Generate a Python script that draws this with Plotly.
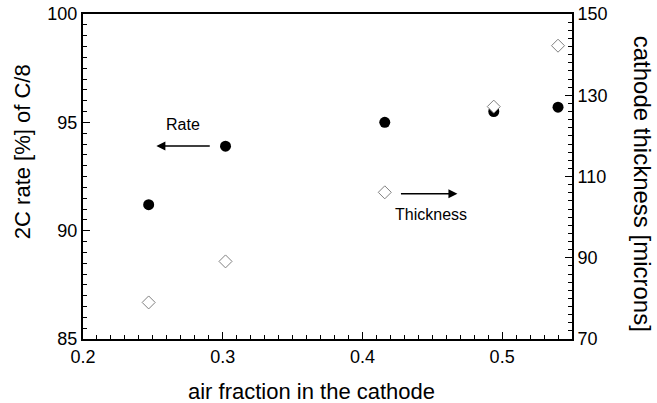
import plotly.graph_objects as go

air_fraction = [0.247, 0.302, 0.416, 0.494, 0.540]
rate_2c = [91.2, 93.9, 95.0, 95.5, 95.7]
thickness = [79.0, 89.1, 106.1, 127.2, 142.2]

x_ticks = [0.2, 0.3, 0.4, 0.5]
y1_ticks = [85, 90, 95, 100]
y2_ticks = [70, 90, 110, 130, 150]

FONT = "Liberation Sans, Arial, sans-serif"

fig = go.Figure()
fig.add_trace(go.Scatter(
    x=air_fraction, y=rate_2c, mode="markers", name="Rate",
    marker=dict(symbol="circle", size=11, color="black"),
))
fig.add_trace(go.Scatter(
    x=air_fraction, y=thickness, mode="markers", name="Thickness", yaxis="y2",
    marker=dict(symbol="diamond", size=10, color="white",
                line=dict(color="#808080", width=1)),
))

axis_common = dict(
    showgrid=False, zeroline=False, showline=True, linecolor="black",
    linewidth=2, ticks="inside", ticklen=7, tickwidth=1, tickcolor="black",
    tickfont=dict(family=FONT, size=18, color="black"), automargin=False,
)

fig.update_layout(
    width=657, height=403,
    margin=dict(l=83, r=85, t=14, b=64),
    paper_bgcolor="white", plot_bgcolor="white",
    showlegend=False,
    font=dict(family=FONT, color="black"),
    xaxis=dict(
        range=[0.2, 0.55], tickvals=x_ticks, ticktext=[str(v) for v in x_ticks],
        mirror=True,
        minor=dict(ticks="inside", dtick=0.01, ticklen=4, tickcolor="black", tickwidth=1),
        **axis_common,
    ),
    yaxis=dict(
        range=[85, 100], tickvals=y1_ticks, ticktext=[str(v) for v in y1_ticks],
        minor=dict(ticks="inside", dtick=0.5, ticklen=4, tickcolor="black", tickwidth=1),
        **axis_common,
    ),
    yaxis2=dict(
        range=[70, 150], tickvals=y2_ticks, ticktext=[str(v) for v in y2_ticks],
        overlaying="y", side="right",
        minor=dict(ticks="inside", dtick=2, ticklen=4, tickcolor="black", tickwidth=1),
        **axis_common,
    ),
)

# Axis titles (as annotations for precise placement)
fig.add_annotation(text="air fraction in the cathode", xref="paper", yref="paper",
                   x=0.467, y=-0.162, showarrow=False, xanchor="center", yanchor="middle",
                   font=dict(family=FONT, size=22, color="black"))
fig.add_annotation(text="2C rate [%] of C/8", xref="paper", yref="paper",
                   x=-0.1247, y=0.575, showarrow=False, textangle=-90,
                   xanchor="center", yanchor="middle",
                   font=dict(family=FONT, size=22, color="black"))
fig.add_annotation(text="cathode thickness [microns]", xref="paper", yref="paper",
                   x=1.143, y=0.478, showarrow=False, textangle=90,
                   xanchor="center", yanchor="middle",
                   font=dict(family=FONT, size=24, color="black"))

# Rate annotation
fig.add_annotation(x=0.2713, y=94.88, xref="x", yref="y", text="Rate",
                   showarrow=False, font=dict(family=FONT, size=16, color="black"))
fig.add_annotation(x=0.2525, y=93.91, ax=0.2918, ay=93.91, xref="x", yref="y",
                   axref="x", ayref="y", text="", showarrow=True,
                   arrowhead=2, arrowsize=1.2, arrowwidth=1.5, arrowcolor="black")
# Thickness annotation
fig.add_annotation(x=0.4494, y=90.73, xref="x", yref="y", text="Thickness",
                   showarrow=False, font=dict(family=FONT, size=16, color="black"))
fig.add_annotation(x=0.468, y=91.70, ax=0.4265, ay=91.70, xref="x", yref="y",
                   axref="x", ayref="y", text="", showarrow=True,
                   arrowhead=2, arrowsize=1.2, arrowwidth=1.5, arrowcolor="black")

fig.write_html("out.html", config={"displayModeBar": False},
               post_script="document.body.style.margin='0';document.body.style.overflow='hidden';")
